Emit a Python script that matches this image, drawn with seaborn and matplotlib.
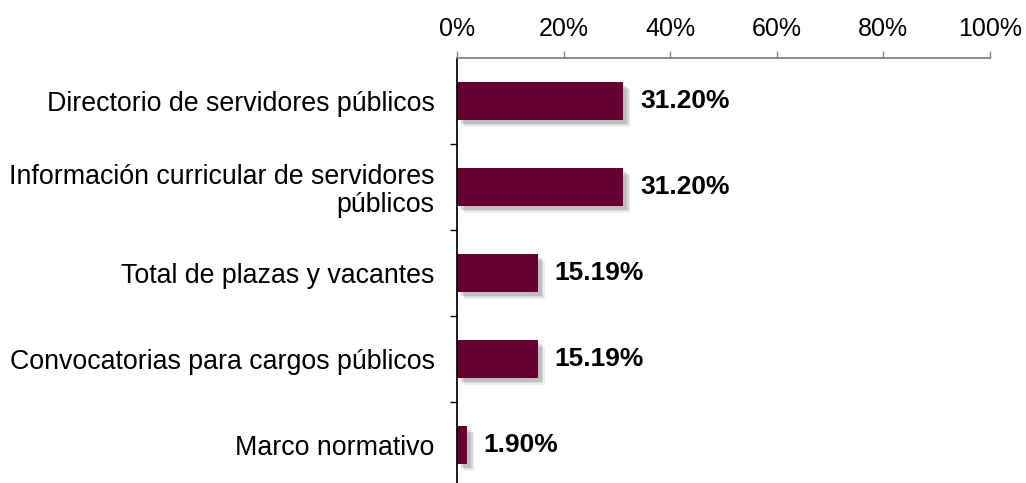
import matplotlib
matplotlib.use('Agg')
import matplotlib.pyplot as plt
import matplotlib.patheffects as pe
import seaborn as sns
import pandas as pd
import numpy as np

categories = ['Directorio de servidores públicos',
              'Información curricular de servidores\npúblicos',
              'Total de plazas y vacantes',
              'Convocatorias para cargos públicos',
              'Marco normativo']
values = [31.20, 31.20, 15.19, 15.19, 1.90]
x_ticks = [0, 20, 40, 60, 80, 100]
bar_color = '#660033'

sns.set_theme(style='white')
plt.rcParams['font.family'] = ['Liberation Sans', 'DejaVu Sans']

df = pd.DataFrame({'cat': categories, 'val': values})

fig = plt.figure(figsize=(10.26, 4.83), dpi=100)
ax = fig.add_axes([0.4454, -0.0104, 0.5195, 0.8903])

sns.barplot(data=df, x='val', y='cat', orient='h', color=bar_color,
            saturation=1, width=0.44, ax=ax)

# soft drop shadow like the original
for bar in ax.patches:
    bar.set_path_effects([
        pe.SimplePatchShadow(offset=(5, -5), shadow_rgbFace='#aaaaaa', alpha=0.2),
        pe.SimplePatchShadow(offset=(4, -4), shadow_rgbFace='#999999', alpha=0.25),
        pe.SimplePatchShadow(offset=(3, -3), shadow_rgbFace='#888888', alpha=0.3),
        pe.Normal()])
    bar.set_edgecolor('none')

ax.bar_label(ax.containers[0], labels=[f'{v:.2f}%' for v in values],
             padding=12, fontsize=19, fontweight='bold', color='black')

ax.set_xlim(0, 100)
ax.set_ylim(len(categories) - 0.5, -0.5)
ax.xaxis.tick_top()
ax.set_xticks(x_ticks)
ax.set_xticklabels([f'{t}%' for t in x_ticks], fontsize=18)
ax.tick_params(axis='x', which='major', direction='out', length=5, width=1,
               color='#808080', pad=7, top=True, bottom=False, labelcolor='black')

ax.set_yticks(range(len(categories)))
ax.set_yticklabels(categories, fontsize=19.3, ha='right', linespacing=1.1)
ax.set_yticks(np.arange(0.5, len(categories) - 0.5, 1), minor=True)
ax.tick_params(axis='y', which='major', length=0, pad=16, labelcolor='black')
ax.tick_params(axis='y', which='minor', length=5, width=1, color='black', left=True)

ax.set_xlabel('')
ax.set_ylabel('')
for side in ['bottom', 'right']:
    ax.spines[side].set_visible(False)
ax.spines['top'].set_color('#808080')
ax.spines['left'].set_color('black')
ax.grid(False)

fig.savefig('out.png', dpi=100)
